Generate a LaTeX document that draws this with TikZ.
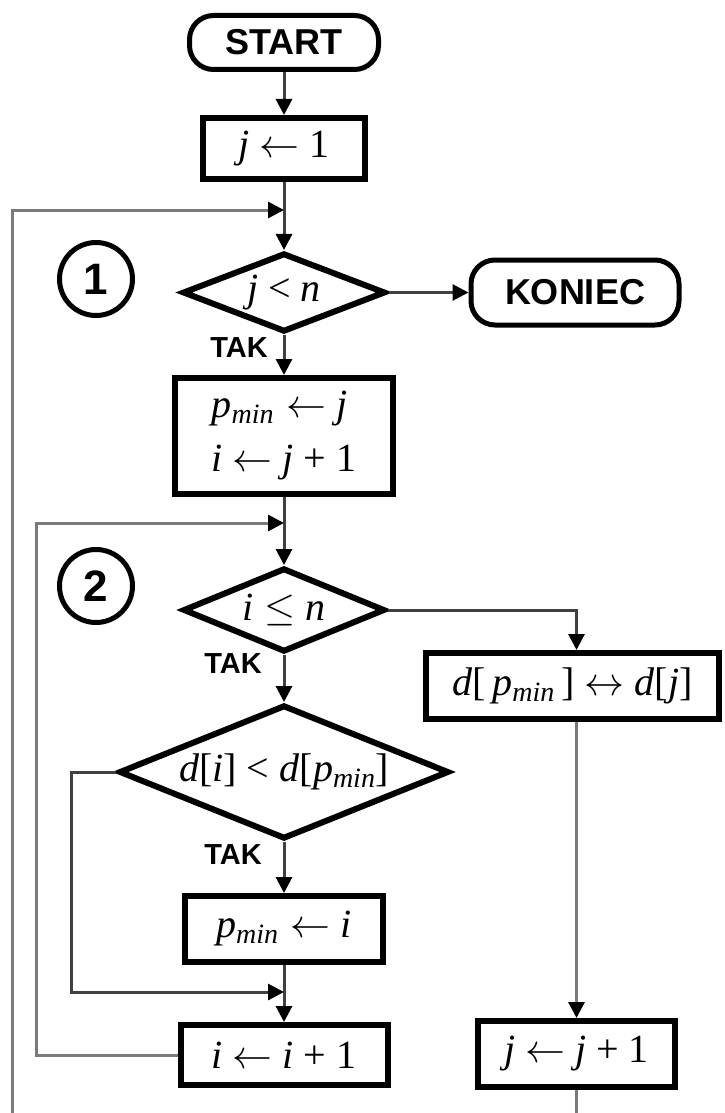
\RequirePackage{fix-cm}
\documentclass[tikz,border=0pt]{standalone}
\usepackage{fontspec}
\setmainfont{Liberation Serif}
\newfontfamily\labelfont{Liberation Sans}
\usetikzlibrary{positioning, arrows.meta, calc, shapes.geometric}
\definecolor{lineDark}{HTML}{404040}
\definecolor{lineGray}{HTML}{7A7A7A}
\newcommand{\flowfont}{\fontsize{40}{44}\selectfont}
\newcommand{\pmin}{\textit{p}\textsubscript{\textit{min}}}
\tikzset{
  terminal/.style={draw=black, rounded corners=24pt, line width=5pt,
    inner sep=0pt, font=\labelfont\bfseries\fontsize{36}{40}\selectfont},
  procbox/.style={draw=black, line width=6pt, inner sep=0pt,
    font=\flowfont, align=left},
  decision/.style={diamond, draw=black, line width=6pt, inner sep=0pt,
    aspect=2.5, font=\flowfont},
  stepmark/.style={circle, draw=black, line width=5pt, minimum size=73pt,
    inner sep=0pt, font=\labelfont\bfseries\fontsize{44}{44}\selectfont},
  yeslabel/.style={inner sep=2pt, font=\labelfont\bfseries\fontsize{29}{30}\selectfont},
  flowline/.style={line width=3pt, color=lineDark},
  flowarrow/.style={flowline, -{Triangle[length=16pt, width=16pt, color=black]}},
  loopline/.style={line width=3pt, color=lineGray},
  looparrow/.style={loopline, -{Triangle[length=16pt, width=16pt, color=black]}},
}
\begin{document}
\begin{tikzpicture}[x=1pt, y=-1pt]

  \useasboundingbox (0,0) rectangle (724,1113);

  % === Outer loop: j ===
  \node[terminal, minimum width=189pt, minimum height=54pt] (start) at (284,42.5) {START};
  \node[procbox, minimum width=162pt, minimum height=61pt, below=43pt of start] (init) {\textit{j} $\leftarrow$ 1};
  \node[decision, minimum width=203pt, minimum height=79pt, below=68pt of init] (cond1) {\textit{j} < \textit{n}};
  \node[terminal, minimum width=208pt, minimum height=65pt, right=80pt of cond1] (koniec) {KONIEC};
  \node[stepmark] (mark1) at (96,279) {1};
  \node[yeslabel, anchor=north east] (tak1) at ([xshift=-14pt]cond1.south) {TAK};
  \node[procbox, minimum width=218pt, minimum height=116pt, below=40pt of cond1] (box2) {%
    \pmin\hspace{12pt}$\leftarrow$ \textit{j}\\[10pt]
    \textit{i} $\leftarrow$ \textit{j} + 1};

  % === Inner loop: i ===
  \node[decision, minimum width=202pt, minimum height=84pt, below=68pt of box2] (cond2) {\textit{i} $\leq$ \textit{n}};
  \node[stepmark] (mark2) at (96,586) {2};
  \node[yeslabel, anchor=north east] (tak2) at ([xshift=-20pt, yshift=4pt]cond2.south) {TAK};
  \node[decision, minimum width=330pt, minimum height=134pt, below=47pt of cond2] (cond3) {\textit{d}[\textit{i}] < \textit{d}[\pmin]};
  \node[yeslabel, anchor=north east] (tak3) at ([xshift=-20pt]cond3.south) {TAK};
  \node[procbox, minimum width=198pt, minimum height=66pt, below=51pt of cond3] (box3) {\pmin\hspace{12pt}$\leftarrow$ \textit{i}};
  \node[procbox, minimum width=207pt, minimum height=60pt, below=57pt of box3] (box4) {\textit{i} $\leftarrow$ \textit{i} + 1};

  % === Right column ===
  \node[procbox, minimum width=293pt, minimum height=66pt] (swap) at (572.5,686) {\textit{d}[\,\pmin\,] $\leftrightarrow$ \textit{d}[\textit{j}]};
  \node[procbox, minimum width=197pt, minimum height=66pt, below=296pt of swap, xshift=4pt] (incj) {\textit{j} $\leftarrow$ \textit{j} + 1};

  % joins on the main line
  \coordinate (join1) at ([yshift=-28pt]init.south);
  \coordinate (join2) at ([yshift=-26pt]box2.south);
  \coordinate (join3) at ([yshift=-27pt]box3.south);
  \coordinate (outerB) at (12,1120);
  \coordinate (rightB) at ([yshift=-40pt]incj.south);

  % Arrows: main line
  \draw[flowarrow] (start) -- (init);
  \draw[flowarrow] (init) -- (cond1);
  \draw[flowarrow] (cond1) -- (koniec);
  \draw[flowarrow] (cond1) -- (box2);
  \draw[flowarrow] (box2) -- (cond2);
  \draw[flowarrow] (cond2) -- (cond3);
  \draw[flowarrow] (cond3) -- (box3);
  \draw[flowarrow] (box3) -- (box4);

  % Arrows: right column
  \draw[flowarrow] (cond2.east) -| (swap.north -| incj.north);
  \draw[loopline, -{Triangle[length=16pt, width=16pt, color=black]}] (incj.north |- swap.south) -- (incj.north);
  \draw[loopline] (incj.south) -- (rightB);

  % Arrows: loops back
  \draw[flowarrow] (cond3.west) -- ++(-45,0) |- (join3);
  \draw[looparrow] (box4.west) -- ++(-141,0) |- (join2);
  \draw[looparrow] (outerB) |- (join1);

\end{tikzpicture}
\end{document}
